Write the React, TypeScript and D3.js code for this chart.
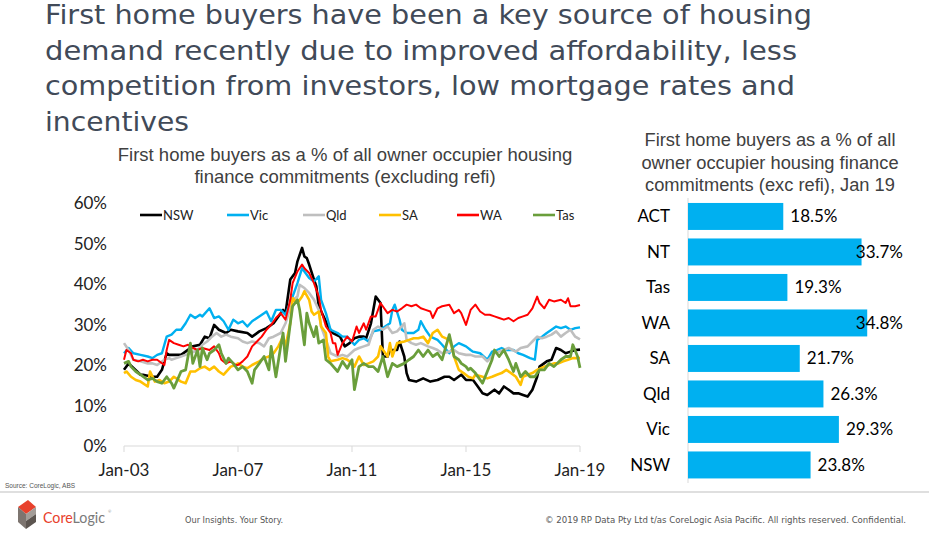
import React from "react";
import * as d3 from "d3";

// ---- Data: [months since Jan-03, % of owner-occupier finance commitments]
const nsw: [number, number][] = [
  [0,18.8],[2,20.4],[7,17.6],[8,17.6],[12,17.1],[14,17.1],[16,18.8],[18,22.9],[19,22.5],[24,22.5],[29,24.6],[32,25.0],[34,27.0],[36,26.6],[38,29.9],[40,28.7],[43,27.9],[45,28.7],[48,28.3],[52,27.9],[54,27.0],[57,28.3],[60,29.1],[63,30.3],[66,32.8],[67,33.6],[68,32.8],[70,41.1],[72,42.7],[73,45.6],[75,48.9],[76,46.8],[77,46.4],[78,44.8],[80,41.1],[81,39.4],[82,34.5],[84,32.0],[86,29.5],[88,27.9],[91,27.0],[93,24.6],[95,25.4],[97,26.6],[99,27.0],[101,27.0],[102,26.6],[104,30.3],[106,36.9],[108,35.3],[109,22.1],[111,22.1],[112,23.7],[115,23.7],[116,25.8],[118,22.1],[119,18.0],[120,16.3],[123,15.9],[126,16.7],[129,15.9],[132,16.3],[135,17.1],[137,17.1],[139,16.3],[142,17.6],[144,16.3],[147,16.3],[149,14.7],[151,13.0],[153,12.6],[156,13.9],[158,13.0],[160,14.7],[162,13.9],[164,13.0],[166,13.0],[168,12.6],[170,12.2],[172,13.9],[174,17.1],[175,19.6],[178,20.9],[180,21.3],[182,24.2],[184,23.7],[186,22.9],[188,23.3],[190,23.7],[192,23.8]
];
const vic: [number, number][] = [
  [0,22.9],[2,24.2],[4,22.9],[7,22.5],[10,22.1],[12,21.7],[14,22.5],[16,22.9],[18,27.0],[20,27.5],[22,28.7],[24,28.7],[26,30.3],[28,32.4],[30,31.6],[32,32.4],[33,32.0],[36,34.0],[38,31.6],[40,32.0],[42,30.8],[44,28.7],[46,31.2],[48,30.3],[50,30.8],[52,29.5],[54,30.8],[57,32.0],[59,32.8],[60,33.2],[62,30.8],[64,33.6],[66,33.6],[68,32.4],[71,36.9],[73,40.2],[75,43.9],[76,43.1],[78,41.5],[80,40.6],[82,41.9],[83,36.1],[85,32.8],[87,28.7],[90,27.9],[92,27.0],[94,27.0],[97,25.0],[99,26.2],[101,26.6],[103,25.8],[105,28.3],[108,28.7],[110,29.5],[112,30.3],[113,33.6],[114,34.9],[116,31.2],[117,28.7],[119,27.9],[122,27.9],[124,28.7],[125,30.8],[127,28.7],[129,27.0],[132,26.2],[134,25.0],[137,22.9],[139,24.6],[141,25.4],[144,24.6],[146,23.7],[147,23.3],[150,22.9],[153,21.3],[155,23.3],[157,23.7],[159,24.2],[161,23.7],[164,23.7],[166,22.9],[168,22.5],[171,21.7],[173,21.3],[174,26.2],[176,27.0],[178,27.9],[180,28.7],[182,29.5],[184,29.1],[186,29.5],[188,28.7],[190,29.1],[192,29.3]
];
const qld: [number, number][] = [
  [0,25.4],[2,23.7],[4,21.3],[7,20.9],[10,20.4],[12,20.4],[14,20.0],[17,21.3],[19,21.7],[20,21.3],[22,21.7],[24,22.1],[26,22.5],[28,22.9],[31,23.7],[33,25.0],[35,25.8],[37,27.0],[39,27.9],[41,27.0],[43,27.5],[45,27.0],[48,26.6],[50,25.8],[52,25.4],[54,25.8],[57,25.4],[59,24.6],[61,26.6],[63,27.0],[66,27.9],[68,30.3],[71,36.1],[73,36.9],[74,39.8],[76,39.0],[78,37.8],[80,36.1],[82,33.6],[83,29.5],[85,26.2],[87,22.9],[90,22.1],[92,22.5],[94,22.1],[97,23.7],[99,24.2],[101,24.6],[103,25.0],[105,28.7],[107,29.5],[109,28.7],[111,29.5],[113,27.9],[115,28.3],[118,30.3],[119,26.2],[121,25.4],[123,25.0],[125,25.4],[128,24.6],[130,24.2],[132,23.7],[134,22.9],[137,23.3],[139,23.7],[141,22.9],[144,22.5],[146,22.5],[148,22.1],[151,22.1],[153,20.9],[156,22.9],[158,23.3],[160,23.7],[162,24.2],[165,23.3],[167,24.2],[170,24.6],[172,25.8],[174,27.0],[176,26.6],[178,27.0],[180,27.5],[182,28.3],[184,27.0],[186,27.9],[188,28.7],[190,27.0],[192,26.3]
];
const sa: [number, number][] = [
  [0,18.0],[1,18.4],[3,17.1],[5,16.3],[7,15.9],[10,14.7],[11,18.4],[13,15.9],[15,16.3],[17,15.5],[19,15.9],[21,17.1],[24,15.9],[26,15.5],[28,18.4],[30,18.4],[32,19.2],[34,19.6],[36,18.8],[38,19.6],[40,18.4],[42,17.6],[45,19.6],[47,20.0],[48,20.4],[50,19.6],[52,19.2],[54,20.0],[57,20.9],[59,21.7],[61,22.1],[63,22.9],[65,24.6],[67,27.0],[68,24.6],[70,30.3],[71,36.5],[73,35.3],[75,36.9],[76,38.2],[78,36.1],[79,33.2],[80,32.4],[82,33.2],[83,29.5],[85,27.9],[86,22.1],[87,20.9],[90,21.3],[92,21.7],[94,21.3],[96,20.4],[97,19.6],[99,22.1],[101,20.0],[103,20.4],[105,20.9],[107,22.1],[108,24.6],[111,22.1],[112,25.4],[113,22.1],[115,25.4],[118,25.8],[120,26.2],[122,26.6],[124,26.6],[126,27.0],[128,25.4],[130,27.9],[132,28.7],[134,27.0],[137,26.2],[138,24.6],[139,22.1],[141,18.8],[143,18.0],[145,17.1],[147,16.7],[148,17.6],[151,17.1],[153,16.7],[155,17.1],[157,17.6],[159,18.0],[161,18.8],[163,18.0],[165,17.1],[167,15.1],[168,17.1],[170,17.6],[172,18.0],[174,18.8],[177,19.6],[179,20.0],[181,20.4],[183,20.4],[185,20.9],[187,21.3],[189,21.7],[192,21.7]
];
const wa: [number, number][] = [
  [0,21.3],[1,23.7],[3,22.9],[4,21.3],[6,20.9],[8,21.3],[10,20.9],[12,21.3],[14,21.3],[17,20.0],[18,23.7],[19,26.2],[21,25.4],[23,25.0],[25,24.6],[27,25.0],[29,24.2],[31,23.7],[33,24.2],[36,23.7],[38,24.6],[40,22.9],[41,21.3],[43,20.4],[45,20.9],[47,20.0],[48,20.0],[50,20.9],[52,22.1],[54,24.6],[56,25.8],[58,27.0],[60,28.7],[62,29.9],[64,31.6],[66,32.8],[68,31.2],[70,36.1],[71,40.2],[73,43.1],[75,44.8],[76,43.9],[78,42.7],[80,40.2],[82,36.9],[83,33.6],[85,29.5],[87,27.9],[88,25.4],[89,25.4],[90,22.5],[92,25.4],[94,27.0],[96,25.8],[98,29.5],[99,27.9],[101,30.3],[102,28.7],[104,32.0],[106,32.0],[108,35.3],[111,32.8],[113,33.6],[115,33.2],[117,34.0],[119,34.9],[121,34.5],[123,34.9],[125,34.0],[127,33.6],[129,33.2],[130,31.6],[132,34.0],[134,34.5],[137,34.9],[139,32.8],[141,33.6],[142,32.8],[144,29.9],[146,33.6],[148,34.9],[150,33.2],[152,32.4],[154,32.4],[156,32.0],[158,31.6],[160,31.2],[162,31.6],[164,30.8],[166,31.6],[168,32.0],[170,32.4],[172,34.0],[174,36.9],[175,35.3],[177,34.0],[179,36.1],[181,35.7],[184,36.1],[186,35.3],[187,36.5],[188,34.5],[190,34.5],[192,34.8]
];
const tas: [number, number][] = [
  [0,20.4],[2,20.9],[3,19.6],[5,18.4],[7,17.6],[10,16.3],[12,16.7],[14,15.9],[16,15.5],[18,17.1],[20,15.5],[21,14.3],[24,18.4],[26,18.8],[28,25.4],[29,20.4],[31,23.7],[32,19.6],[33,24.2],[35,21.3],[36,22.9],[38,23.7],[40,25.0],[41,22.9],[43,20.4],[44,21.7],[46,20.4],[48,18.8],[50,19.6],[52,18.4],[54,15.5],[55,18.8],[57,20.4],[59,22.1],[61,18.8],[62,24.6],[64,17.1],[66,24.6],[67,27.9],[68,20.9],[70,30.3],[71,34.5],[73,36.1],[74,33.6],[76,25.0],[77,32.8],[78,30.3],[80,27.0],[81,29.5],[82,25.4],[84,26.2],[85,21.3],[87,20.4],[90,18.4],[92,20.9],[94,19.2],[96,21.3],[97,13.9],[99,19.6],[101,20.4],[103,19.6],[105,19.6],[107,18.4],[109,22.1],[111,17.1],[113,20.4],[115,19.6],[118,20.4],[120,21.3],[122,22.1],[124,23.7],[126,22.1],[128,23.7],[130,22.1],[132,22.9],[134,21.3],[137,27.5],[138,25.0],[139,22.1],[141,21.3],[142,20.4],[144,19.6],[145,18.8],[146,19.2],[148,18.0],[151,15.5],[153,18.4],[155,21.3],[156,23.7],[158,22.1],[160,23.7],[162,21.3],[164,18.4],[165,20.4],[167,17.1],[169,18.4],[171,17.1],[173,17.1],[175,18.8],[177,18.8],[179,20.4],[181,19.6],[184,21.3],[186,22.1],[188,22.1],[189,25.0],[191,22.1],[192,19.3]
];

const seriesNames = ["NSW", "Vic", "Qld", "SA", "WA", "Tas"];
const seriesData = [nsw, vic, qld, sa, wa, tas];
const seriesColors = ["#000000", "#00B0F0", "#BFBFBF", "#FFC000", "#FF0000", "#6A9E3B"];
const seriesWidths = [2.6, 2.4, 2.6, 2.6, 2.0, 2.8];

const yTicks = [0, 10, 20, 30, 40, 50, 60];
const xTickYears = [2003, 2007, 2011, 2015, 2019];

const barCategories = ["ACT", "NT", "Tas", "WA", "SA", "Qld", "Vic", "NSW"];
const barValues = [18.5, 33.7, 19.3, 34.8, 21.7, 26.3, 29.3, 23.8];

const titleLines = [
  "First home buyers have been a key source of housing",
  "demand recently due to improved affordability, less",
  "competition from investors, low mortgage rates and",
  "incentives",
];
const titleWidths = [767, 752, 750, 144];

const leftTitle = [
  "First home buyers as a % of all owner occupier housing",
  "finance commitments (excluding refi)",
];
const rightTitle = [
  "First home buyers as a % of all",
  "owner occupier housing finance",
  "commitments (exc refi), Jan 19",
];

const FONT_BODY = "Lato, 'Open Sans', sans-serif";
const FONT_ARIAL = "'Liberation Sans', Arial, sans-serif";
const FONT_TITLE = "'DejaVu Sans', sans-serif";

export default function App() {
  const W = 929, H = 536;

  // Line chart scales
  const start = new Date(2003, 0, 1);
  const x = d3.scaleTime().domain([start, new Date(2019, 0, 1)]).range([124, 580]);
  const y = d3.scaleLinear().domain([0, 60]).range([446, 203]);
  const toDate = (m: number) => new Date(2003, m, 1);
  const line = d3
    .line<[number, number]>()
    .x((d) => x(toDate(d[0])))
    .y((d) => y(d[1]));
  const fmt = d3.timeFormat("%b-%y");

  // Bar chart scales
  const by = d3.scaleBand<string>().domain(barCategories).range([198.7, 482.7]).paddingInner(0.24).paddingOuter(0.12);
  const bx = d3.scaleLinear().domain([0, 40]).range([688, 894]);

  const legendX = [140, 227, 303, 379, 457, 533];

  return (
    <div style={{ position: "absolute", left: 0, top: 0 }}>
      <svg width={W} height={H} style={{ display: "block", background: "#fff" }}>
        {/* Headline */}
        {titleLines.map((t, i) => (
          <text
            key={i}
            x={45}
            y={24 + i * 35.5}
            fontFamily={FONT_TITLE}
            fontSize={26.5}
            fontWeight={400}
            fill="#414a58"
            textLength={titleWidths[i]}
            lengthAdjust="spacingAndGlyphs"
          >
            {t}
          </text>
        ))}

        {/* Left chart title */}
        {leftTitle.map((t, i) => (
          <text key={i} x={345} y={161 + i * 21.5} textAnchor="middle" fontFamily={FONT_ARIAL} fontSize={18.5} fill="#404040">
            {t}
          </text>
        ))}

        {/* Y ticks */}
        {yTicks.map((t) => (
          <text key={t} x={107} y={y(t) + 6} textAnchor="end" fontFamily={FONT_BODY} fontSize={17} fill="#222">
            {t + "%"}
          </text>
        ))}

        {/* X axis */}
        <line x1={124} x2={580} y1={446} y2={446} stroke="#d9d9d9" strokeWidth={1} />
        {xTickYears.map((yr) => {
          const d = new Date(yr, 0, 1);
          return (
            <g key={yr}>
              <line x1={x(d)} x2={x(d)} y1={446} y2={452} stroke="#d9d9d9" />
              <text x={x(d)} y={476} textAnchor="middle" fontFamily={FONT_BODY} fontSize={17} fill="#222">
                {fmt(d)}
              </text>
            </g>
          );
        })}

        {/* Lines */}
        {seriesData.map((s, i) => (
          <path
            key={seriesNames[i]}
            d={line(s) || ""}
            fill="none"
            stroke={seriesColors[i]}
            strokeWidth={seriesWidths[i]}
            strokeLinejoin="round"
          />
        ))}

        {/* Legend */}
        {seriesNames.map((n, i) => (
          <g key={n}>
            <line x1={legendX[i]} x2={legendX[i] + 22} y1={215} y2={215} stroke={seriesColors[i]} strokeWidth={2.6} />
            <text x={legendX[i] + 23} y={220} fontFamily={FONT_BODY} fontSize={13} fill="#222">
              {n}
            </text>
          </g>
        ))}

        {/* Right chart title */}
        {rightTitle.map((t, i) => (
          <text key={i} x={770} y={146 + i * 22.5} textAnchor="middle" fontFamily={FONT_ARIAL} fontSize={18.3} fill="#404040">
            {t}
          </text>
        ))}

        {/* Bars */}
        <line x1={688} x2={688} y1={198} y2={483} stroke="#d9d9d9" />
        {barCategories.map((c, i) => {
          const end = bx(barValues[i]);
          const yy = (by(c) as number) + by.bandwidth() / 2;
          const label = barValues[i].toFixed(1) + "%";
          const labelW = 47;
          const fits = end + 7 + labelW <= 903;
          return (
            <g key={c}>
              <rect x={bx(0)} y={by(c)} width={end - bx(0)} height={by.bandwidth()} fill="#00B0F0" />
              <text x={670} y={yy + 6} textAnchor="end" fontFamily={FONT_BODY} fontSize={17} fill="#000">
                {c}
              </text>
              <text
                x={fits ? end + 7 : 903}
                y={yy + 6}
                textAnchor={fits ? "start" : "end"}
                fontFamily={FONT_BODY}
                fontSize={17}
                fill="#000"
              >
                {label}
              </text>
            </g>
          );
        })}

        {/* Footer */}
        <text x={5} y={488} fontFamily={FONT_ARIAL} fontSize={6.5} fill="#555">
          Source:  CoreLogic, ABS
        </text>
        <line x1={0} x2={W} y1={492} y2={492} stroke="#bfbfbf" strokeWidth={1} />
        <g>
          <polygon points="18,507 28,500 36,507 26,514" fill="#E8412C" />
          <polygon points="18,507 26,514 26,529 18,522" fill="#7d7570" />
          <polygon points="26,514 36,507 36,514 26,521" fill="#a39d98" />
          <polygon points="26,521 36,514 36,522 26,529" fill="#5c5550" />
        </g>
        <text x={43} y={523} fontFamily={FONT_BODY} fontSize={15} textLength={62} lengthAdjust="spacingAndGlyphs">
          <tspan fill="#E8412C">Core</tspan>
          <tspan fill="#7a7a7a">Logic</tspan>
        </text>
        <text x={108} y={513} fontFamily={FONT_BODY} fontSize={4} fill="#888">®</text>
        <text x={185} y={523} fontFamily={FONT_TITLE} fontSize={9.5} fill="#555" textLength={98} lengthAdjust="spacingAndGlyphs">
          Our Insights. Your Story.
        </text>
        <text x={545} y={523} fontFamily={FONT_TITLE} fontSize={9} fill="#555" textLength={361} lengthAdjust="spacingAndGlyphs">
          © 2019 RP Data Pty Ltd t/as CoreLogic Asia Pacific. All rights reserved. Confidential.
        </text>
      </svg>
    </div>
  );
}
